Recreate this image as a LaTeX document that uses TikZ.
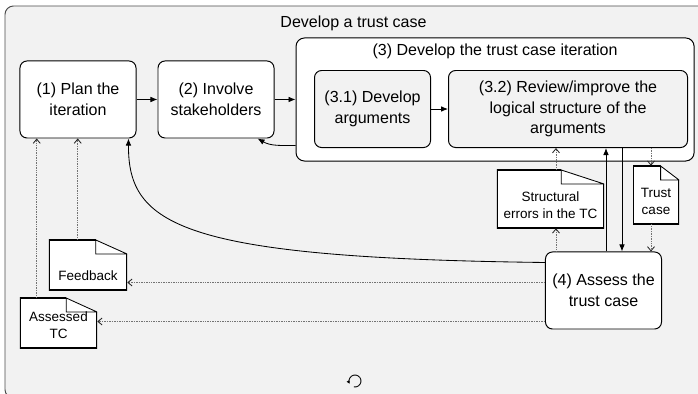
\documentclass[tikz,border=0pt]{standalone}
\usepackage{fontspec}
\setmainfont{Liberation Sans}
\usetikzlibrary{chains,positioning,calc,arrows.meta}
\definecolor{bgfill}{gray}{0.95}
\definecolor{rimgray}{gray}{0.3}
\newcommand{\ppb}{path picture bounding box}
\tikzstyle{outerbox}=[draw=rimgray,fill=bgfill,rounded corners=6pt,line width=0.7pt]
\tikzstyle{taskbox}=[draw,fill=white,rounded corners=5pt,line width=0.7pt,minimum width=2.9cm,minimum height=1.925cm,align=center,inner sep=1pt]
\tikzstyle{iterbox}=[taskbox,minimum width=9.95cm,minimum height=3.075cm,rounded corners=6pt]
\tikzstyle{subbox}=[taskbox,fill=bgfill]
\tikzstyle{docbox}=[fill=white,inner sep=1pt,
  path picture={
    \fill[bgfill] ($(\ppb.north east)!0.4!(\ppb.north west)$) -- (\ppb.north east) -- ($(\ppb.north east)+(0,-14)$) -- cycle;
    \draw[line width=1.2pt] ($(\ppb.north east)!0.4!(\ppb.north west)$) -- (\ppb.north west) -- (\ppb.south west) -- (\ppb.south east) -- ($(\ppb.north east)+(0,-14)$);
    \draw[line width=0.6pt] ($(\ppb.north east)+(0,-14)$) -- ($(\ppb.north east)!0.4!(\ppb.north west)$) |- ($(\ppb.north east)+(0,-14)$);
  }]
\tikzstyle{doctext}=[align=center,inner sep=0pt,font=\fontsize{9.6}{11.9}\selectfont]
\tikzstyle{flow}=[line width=0.6pt,-{Latex[length=5pt,width=4pt]}]
\tikzstyle{docflow}=[black!55,line width=0.6pt,dash pattern=on 0.7pt off 0.5pt,-{Straight Barb[length=3pt,width=5pt,black!85]}]

\begin{document}
\begin{tikzpicture}[x=0.025cm,y=0.025cm,font=\fontsize{11.4}{14.6}\selectfont]
\useasboundingbox (0,0) rectangle (698,394);
\clip (0,0) rectangle (698,394);
% outer activity, runs off to the right and bottom
\draw[outerbox] (5,388) rectangle (720,-4);
\node (title) at (353.5,371) {Develop a trust case};

\begin{scope}[start chain=1 going right, node distance=0.525cm]
    \node [on chain=1,taskbox] (n1) at (78,294.5) {(1) Plan the\\iteration};
    \node [on chain=1,taskbox] (n2) {(2) Involve\\stakeholders};
    \node [on chain=1,iterbox] (n3) {};
\end{scope}
\node (n3t) at ($(n3.north)+(0,-14)$) {(3) Develop the trust case iteration};
\begin{scope}[start chain=2 going right, node distance=0.425cm]
    \node [on chain=2,subbox] (n31) at ($(n3.south west)+(77,52.5)$) {(3.1) Develop\\arguments};
    \node [on chain=2,subbox,minimum width=5.975cm] (n32) {(3.2) Review/improve the\\logical structure of the\\arguments};
\end{scope}

\node [taskbox] (n4) at (603.5,103.5) {(4) Assess the\\trust case};
% documents: text sits a little below the middle, under the dog-ear
\node [docbox,minimum width=2.675cm,minimum height=1.45cm,
       label={[doctext,yshift=-4.6pt]center:Structural\\errors in the TC}] (errs) at (550.5,195) {};
\node [docbox,minimum width=1.15cm,minimum height=1.45cm,
       label={[doctext,yshift=-4.6pt]center:Trust\\case}] (trust) at (656,199) {};
\node [docbox,minimum width=1.95cm,minimum height=1.25cm,
       label={[doctext,yshift=-7.8pt]center:Feedback}] (fb) at (88,129) {};
\node [docbox,minimum width=1.925cm,minimum height=1.25cm,
       label={[doctext,yshift=-1.4pt]center:Assessed\\TC}] (atc) at (58.5,71) {};

% ports on the top and left side of (4)
\coordinate (t1) at ($(n4.north west)+(11,0)$);
\coordinate (t2) at ($(n4.north west)+(61,0)$);
\coordinate (t3) at ($(n4.north west)+(77,0)$);
\coordinate (t4) at ($(n4.north west)+(106,0)$);
\coordinate (s1) at ($(n4.north west)+(0,-11)$);
\coordinate (s2) at ($(n4.north west)+(0,-31)$);
\coordinate (s3) at ($(n4.north west)+(0,-70)$);
\coordinate (u1) at ($(fb.north west)+(29,0)$);
\coordinate (u2) at ($(atc.north west)+(17,0)$);

\draw[flow] (n1) -- (n2);
\draw[flow] (n2) -- (n3);
\draw[flow] (n31) -- (n32);
\draw[flow] ($(n3.south west)+(0,16)$) to[out=180,in=-30] ($(n2.south east)+(-17,0)$);
\draw[flow] (s1) .. controls (180,136) and (128,169) .. ($(n1.south east)+(-8,0)$);
\draw[flow] (t2) -- (t2 |- n32.south);
\draw[flow] (t3 |- n32.south) -- (t3);

\draw[docflow] (t1) -- (t1 |- errs.south);
\draw[docflow] (t1 |- errs.north) -- (t1 |- n32.south);
\draw[docflow] (t4 |- n32.south) -- (t4 |- trust.north);
\draw[docflow] (t4 |- trust.south) -- (t4);
\draw[docflow] (s2) -- (s2 -| fb.east);
\draw[docflow] (s3) -- (s3 -| atc.east);
\draw[docflow] (u1) -- (u1 |- n1.south);
\draw[docflow] (u2) -- (u2 |- n1.south);

% loop mark at the bottom of the frame
\coordinate (cyc) at (355,13);
\draw[line width=0.6pt,-{Latex[length=2.5pt,width=2.5pt]}] ($(cyc)+(-100:6)$) arc[start angle=-100,end angle=210,radius=6];
\end{tikzpicture}
\end{document}
